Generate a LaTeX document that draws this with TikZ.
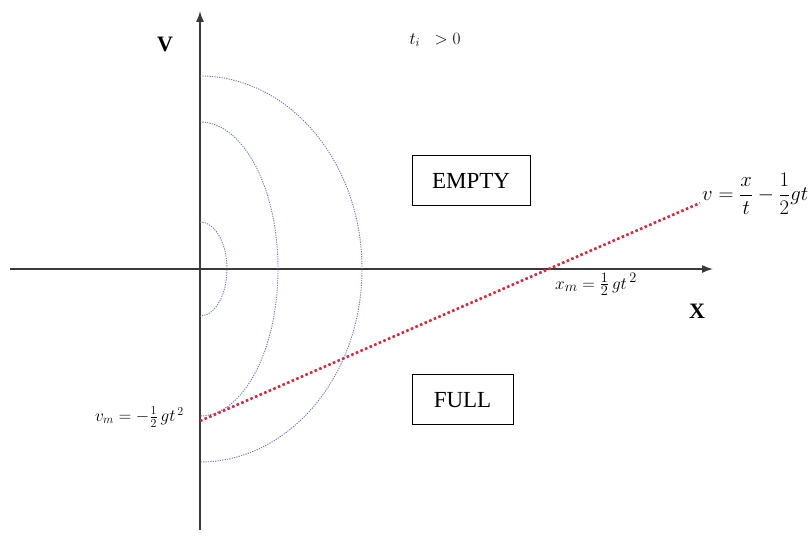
\documentclass[tikz,border=0pt]{standalone}
\usepackage{amsmath}
\usepackage{fontspec}
\setmainfont{Liberation Serif}
\usetikzlibrary{arrows.meta}
\definecolor{arcblue}{HTML}{6A74C8}
\definecolor{dotred}{HTML}{D8283C}
\definecolor{axisgray}{HTML}{3A3A3A}
\tikzset{
  axisline/.style={draw=axisgray, line width=1.3pt, -{Latex[length=11pt,width=8pt]}},
  arcline/.style={draw=arcblue, line width=0.9pt, dash pattern=on 1.2pt off 1.2pt},
  redline/.style={draw=dotred, line width=2.6pt, dash pattern=on 2.6pt off 2.4pt},
  regionbox/.style={draw=black, line width=1pt, inner sep=0pt, font=\fontsize{23}{25}\selectfont},
  axislabel/.style={font=\fontsize{22}{24}\selectfont\bfseries},
  formula/.style={inner sep=0pt}
}
\begin{document}
\begin{tikzpicture}[x=1pt,y=-1pt]
\useasboundingbox (0,0) rectangle (812,537);
% axes
\coordinate (xs) at (10,269);
\coordinate (xe) at (713,269);
\coordinate (ys) at (200,530);
\coordinate (ye) at (200,11);
\draw[axisline] (xs) -- (xe);
\draw[axisline] (ys) -- (ye);
% arcs
\coordinate (a1) at (200,222);
\coordinate (a2) at (200,122);
\coordinate (a3) at (200,76);
\draw[arcline] (a1) arc[start angle=-90,end angle=90,x radius=27,y radius=47];
\draw[arcline] (a2) arc[start angle=-90,end angle=90,x radius=78,y radius=147];
\draw[arcline] (a3) arc[start angle=-90,end angle=90,x radius=162,y radius=193];
% red dotted line
\coordinate (vm) at (200,421);
\coordinate (ve) at (700,203);
\draw[redline] (vm) -- (ve);
% labels
\node[axislabel] (vlab) at (165,44) {V};
\node[axislabel] (xlab) at (697,311) {X};
\node[formula, font=\fontsize{17}{19}\selectfont] (ti) at (435,40) {$t_{i}\;\;> 0$};
\node[regionbox, minimum width=118pt, minimum height=50pt] (empty) at (471,181) {EMPTY};
\node[regionbox, minimum width=101pt, minimum height=50pt] (full) at (462.5,400) {FULL};
\node[formula, anchor=west, font=\fontsize{21}{24}\selectfont] (vf) at (702,194) {$v=\dfrac{x}{t}-\dfrac{1}{2}gt$};
\node[formula, anchor=west, font=\fontsize{19}{21}\selectfont] (xm) at (555,284) {$x_m=\tfrac{1}{2}\,gt^{\,2}$};
\node[formula, anchor=east, font=\fontsize{18}{20}\selectfont] (vml) at (184,417) {$v_m=-\tfrac{1}{2}\,gt^{\,2}$};
\end{tikzpicture}
\end{document}
